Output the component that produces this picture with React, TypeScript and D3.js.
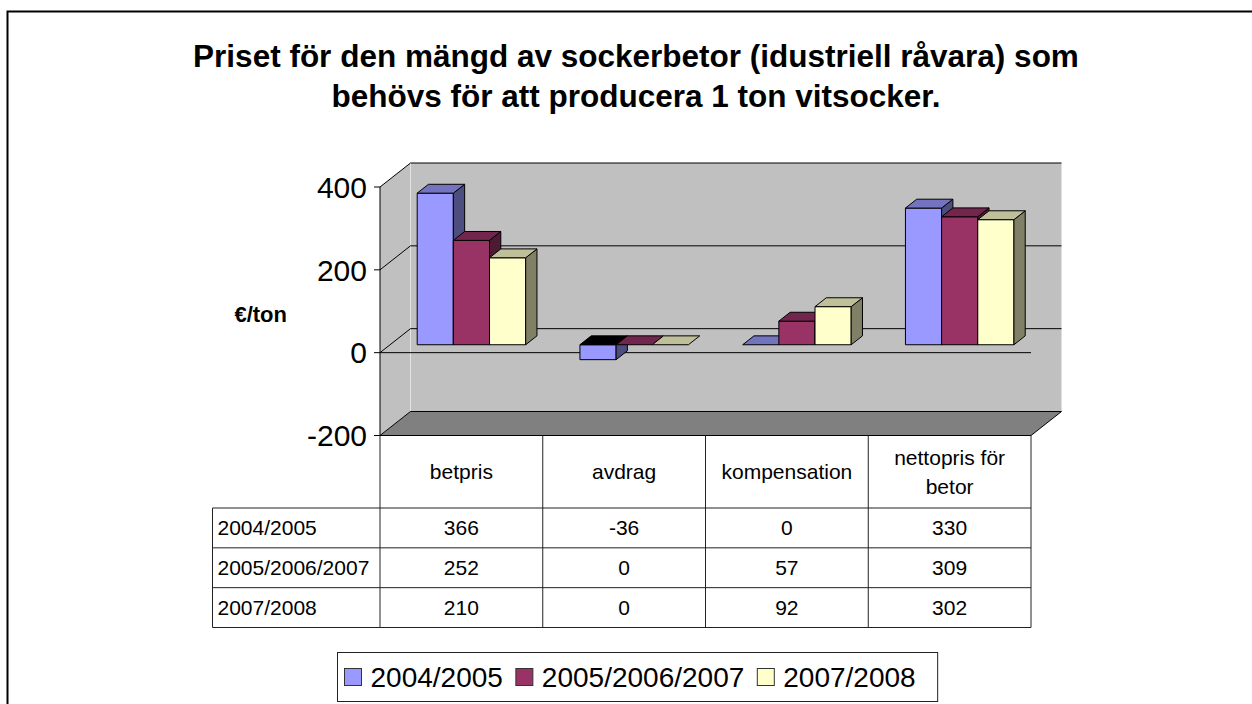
import React, { useEffect, useRef } from 'react';
import * as d3 from 'd3';

// chart data
const titleLines = [
  'Priset för den mängd av sockerbetor (idustriell råvara) som',
  'behövs för att producera 1 ton vitsocker.',
];
const yLabel = '€/ton';
const categories = ['betpris', 'avdrag', 'kompensation', 'nettopris för betor'];
const seriesNames = ['2004/2005', '2005/2006/2007', '2007/2008'];
const values2004 = [366, -36, 0, 330];
const values2005 = [252, 0, 57, 309];
const values2007 = [210, 0, 92, 302];
const yTicks = [-200, 0, 200, 400];

const seriesValues = [values2004, values2005, values2007];
const seriesColors = ['#9999FF', '#993366', '#FFFFCC'];

const FONT = '"Liberation Sans", Arial, Helvetica, sans-serif';

const shade = (c: string, k: number) => {
  const rgb = d3.rgb(c);
  return d3.rgb(rgb.r * k, rgb.g * k, rgb.b * k).formatHex();
};

const App = () => {
  const svgRef = useRef<SVGSVGElement>(null);

  useEffect(() => {
    document.body.style.margin = '0';
    document.body.style.overflow = 'hidden';

    const svg = d3.select(svgRef.current);
    svg.selectAll('*').remove();

    // outer frame (only top and left edges fall inside the picture)
    svg.append('path')
      .attr('d', 'M7.5,720 V11.5 H1270')
      .attr('fill', 'none')
      .attr('stroke', 'black')
      .attr('stroke-width', 2);

    // title
    svg.append('g').selectAll('text')
      .data(titleLines)
      .join('text')
      .attr('x', 636)
      .attr('y', (d, i) => 67 + i * 40)
      .attr('text-anchor', 'middle')
      .attr('font-family', FONT)
      .attr('font-weight', 'bold')
      .attr('font-size', 31.5)
      .text(d => d);

    // scales (front plane)
    const left = 380, right = 1031;
    const y = d3.scaleLinear().domain([-200, 400]).range([435.5, 187]);
    const x = d3.scaleBand<string>().domain(categories).range([left, right]);
    const inner = d3.scaleBand<string>().domain(seriesNames)
      .range([0, x.bandwidth()]).paddingOuter(0.75);

    // depth projection
    const ddx = 30.5, ddy = -24;
    const yMin = y.domain()[0], yMax = y.domain()[1];

    const g = svg.append('g');

    // back wall
    g.append('polygon')
      .attr('points', [
        [left + ddx, y(yMax) + ddy], [right + ddx, y(yMax) + ddy],
        [right + ddx, y(yMin) + ddy], [left + ddx, y(yMin) + ddy],
      ].map(p => p.join(',')).join(' '))
      .attr('fill', '#C0C0C0');

    // side wall
    g.append('polygon')
      .attr('points', [
        [left, y(yMax)], [left + ddx, y(yMax) + ddy],
        [left + ddx, y(yMin) + ddy], [left, y(yMin)],
      ].map(p => p.join(',')).join(' '))
      .attr('fill', '#C0C0C0');

    g.append('line')
      .attr('x1', left + ddx).attr('x2', left + ddx)
      .attr('y1', y(yMax) + ddy).attr('y2', y(yMin) + ddy)
      .attr('stroke', '#E4E4E4');

    // gridlines on walls
    const grid = yTicks.filter(t => t > yMin);
    grid.forEach(t => {
      g.append('polyline')
        .attr('points', `${left},${y(t)} ${left + ddx},${y(t) + ddy} ${right + ddx},${y(t) + ddy}`)
        .attr('fill', 'none')
        .attr('stroke', 'black');
    });

    // floor
    g.append('polygon')
      .attr('points', [
        [left, y(yMin)], [right, y(yMin)],
        [right + ddx, y(yMin) + ddy], [left + ddx, y(yMin) + ddy],
      ].map(p => p.join(',')).join(' '))
      .attr('fill', '#808080')
      .attr('stroke', 'black');

    // axis line + category axis at zero
    g.append('line')
      .attr('x1', left).attr('x2', left)
      .attr('y1', y(yMax)).attr('y2', y(yMin))
      .attr('stroke', 'black');
    g.append('line')
      .attr('x1', left).attr('x2', right)
      .attr('y1', y(0)).attr('y2', y(0))
      .attr('stroke', 'black');

    // ticks and labels
    yTicks.forEach(t => {
      g.append('line')
        .attr('x1', left - 6).attr('x2', left)
        .attr('y1', y(t)).attr('y2', y(t))
        .attr('stroke', 'black');
      g.append('text')
        .attr('x', 367)
        .attr('y', y(t))
        .attr('dy', '0.36em')
        .attr('text-anchor', 'end')
        .attr('font-family', FONT)
        .attr('font-size', 30)
        .text(t);
    });

    svg.append('text')
      .attr('x', 287).attr('y', 314)
      .attr('dy', '0.36em')
      .attr('text-anchor', 'end')
      .attr('font-family', FONT)
      .attr('font-weight', 'bold')
      .attr('font-size', 22)
      .text(yLabel);

    // bars
    const fOff = 0.33, fDepth = 0.37;
    const ox = ddx * fOff, oy = ddy * fOff;
    const bx = ddx * fDepth, by = ddy * fDepth;
    const w = inner.bandwidth();
    const bars = g.append('g');

    categories.forEach((cat, ci) => {
      seriesNames.forEach((s, si) => {
        const v = seriesValues[si][ci];
        const color = seriesColors[si];
        const x0 = (x(cat) as number) + (inner(s) as number) + ox;
        const yTop = y(Math.max(v, 0)) + oy;
        const yBot = y(Math.min(v, 0)) + oy;
        const bar = bars.append('g')
          .attr('stroke', 'black')
          .attr('stroke-width', 1)
          .attr('stroke-linejoin', 'round');

        if (v !== 0) {
          bar.append('rect')
            .attr('x', x0).attr('y', yTop)
            .attr('width', w).attr('height', yBot - yTop)
            .attr('fill', color);
          bar.append('polygon')
            .attr('points', `${x0 + w},${yTop} ${x0 + w + bx},${yTop + by} ${x0 + w + bx},${yBot + by} ${x0 + w},${yBot}`)
            .attr('fill', shade(color, 0.5));
        }
        bar.append('polygon')
          .attr('points', `${x0},${yTop} ${x0 + w},${yTop} ${x0 + w + bx},${yTop + by} ${x0 + bx},${yTop + by}`)
          .attr('fill', v < 0 ? 'black' : shade(color, 0.75));
      });
    });

    // data table
    const rowTop = y(yMin);
    const headBottom = 508;
    const tableLeft = 212.5;
    const row = d3.scaleBand<string>().domain(seriesNames).range([headBottom, 627.5]);
    const tbl = svg.append('g').attr('font-family', FONT).attr('font-size', 21);

    const cols = categories.map(c => x(c) as number).concat([right]);
    cols.forEach(cx => {
      tbl.append('line')
        .attr('x1', cx).attr('x2', cx)
        .attr('y1', rowTop).attr('y2', 627.5)
        .attr('stroke', '#222');
    });
    tbl.append('line')
      .attr('x1', tableLeft).attr('x2', tableLeft)
      .attr('y1', headBottom).attr('y2', 627.5)
      .attr('stroke', '#222');
    [headBottom, ...seriesNames.map(s => (row(s) as number) + row.bandwidth())].forEach(ry => {
      tbl.append('line')
        .attr('x1', tableLeft).attr('x2', right)
        .attr('y1', ry).attr('y2', ry)
        .attr('stroke', '#222');
    });

    // header with word wrap
    categories.forEach(cat => {
      const t = tbl.append('text')
        .attr('text-anchor', 'middle')
        .attr('x', (x(cat) as number) + x.bandwidth() / 2);
      const words = cat.split(' ');
      const lines: string[] = [];
      let cur = '';
      words.forEach(wd => {
        const test = cur ? cur + ' ' + wd : wd;
        t.text(test);
        if (cur && (t.node() as SVGTextElement).getComputedTextLength() > x.bandwidth() - 14) {
          lines.push(cur);
          cur = wd;
        } else {
          cur = test;
        }
      });
      lines.push(cur);
      t.text(null);
      const lh = 28.5;
      const mid = (rowTop + headBottom) / 2;
      lines.forEach((ln, i) => {
        t.append('tspan')
          .attr('x', (x(cat) as number) + x.bandwidth() / 2)
          .attr('y', mid + (i - (lines.length - 1) / 2) * lh)
          .attr('dy', '0.36em')
          .text(ln);
      });
    });

    seriesNames.forEach((s, si) => {
      const cy = (row(s) as number) + row.bandwidth() / 2;
      tbl.append('text')
        .attr('x', tableLeft + 5)
        .attr('y', cy)
        .attr('dy', '0.36em')
        .text(s);
      categories.forEach((cat, ci) => {
        tbl.append('text')
          .attr('x', (x(cat) as number) + x.bandwidth() / 2)
          .attr('y', cy)
          .attr('dy', '0.36em')
          .attr('text-anchor', 'middle')
          .text(seriesValues[si][ci]);
      });
    });

    // legend
    const lg = svg.append('g');
    const box = lg.append('rect')
      .attr('y', 652.5).attr('height', 49)
      .attr('fill', 'white')
      .attr('stroke', '#222');
    const legendLeft = 337.5;
    let cx = legendLeft + 7;
    seriesNames.forEach((s, si) => {
      lg.append('rect')
        .attr('x', cx).attr('y', 668.5)
        .attr('width', 17).attr('height', 17)
        .attr('fill', seriesColors[si])
        .attr('stroke', '#333');
      const t = lg.append('text')
        .attr('x', cx + 26)
        .attr('y', 677)
        .attr('dy', '0.36em')
        .attr('font-family', FONT)
        .attr('font-size', 28)
        .text(s);
      cx += 26 + (t.node() as SVGTextElement).getComputedTextLength() + 13;
    });
    box.attr('x', legendLeft).attr('width', cx - 13 + 22 - legendLeft);
  }, []);

  return (
    <svg
      ref={svgRef}
      width={1252}
      height={704}
      style={{ position: 'absolute', left: 0, top: 0, background: 'white' }}
    />
  );
};

export default App;
